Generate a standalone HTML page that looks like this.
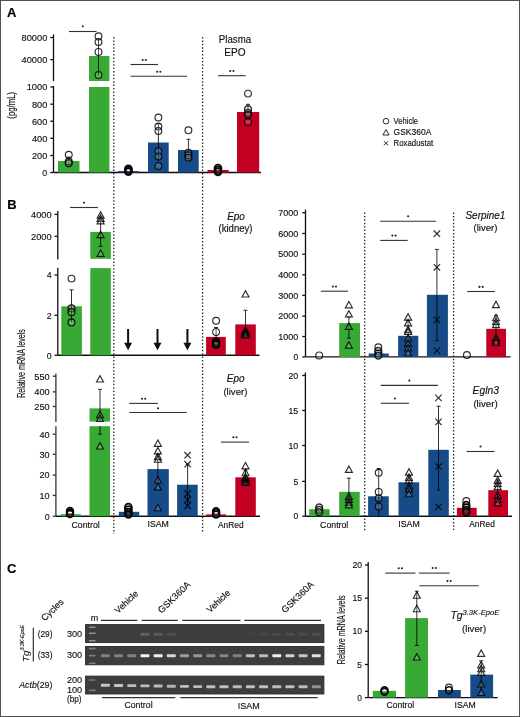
<!DOCTYPE html>
<html><head><meta charset="utf-8"><style>
html,body{margin:0;padding:0;background:#fff;}
body{width:520px;height:717px;position:relative;overflow:hidden;font-family:"Liberation Sans", sans-serif;}
#frame{position:absolute;left:0;top:0;width:518px;height:715px;border:1px solid #505050;pointer-events:none;}
</style></head><body>
<svg width="520" height="717" viewBox="0 0 520 717" style="position:absolute;left:0;top:0;font-family:'Liberation Sans', sans-serif"><rect x="0.00" y="0.00" width="520.00" height="717.00" fill="#fff" /><defs><filter id="soft" x="0" y="0" width="100%" height="100%"><feGaussianBlur stdDeviation="0.3"/></filter></defs><g filter="url(#soft)"><text x="6.90" y="16.90" font-size="13" text-anchor="start" font-weight="bold" fill="#000" stroke="#000" stroke-width="0.15" style=""  >A</text><line x1="53.50" y1="34.40" x2="53.50" y2="81.00" stroke="#111" stroke-width="1.3" /><line x1="50.30" y1="37.50" x2="53.50" y2="37.50" stroke="#111" stroke-width="1.3" /><text x="47.30" y="40.84" font-size="9.96" text-anchor="end" font-weight="normal" fill="#111" stroke="#111" stroke-width="0.15" style="" textLength="25.83" lengthAdjust="spacingAndGlyphs" >80000</text><line x1="50.30" y1="59.60" x2="53.50" y2="59.60" stroke="#111" stroke-width="1.3" /><text x="47.30" y="62.94" font-size="9.96" text-anchor="end" font-weight="normal" fill="#111" stroke="#111" stroke-width="0.15" style="" textLength="25.83" lengthAdjust="spacingAndGlyphs" >40000</text><line x1="53.50" y1="86.00" x2="53.50" y2="172.50" stroke="#111" stroke-width="1.3" /><line x1="50.30" y1="87.00" x2="53.50" y2="87.00" stroke="#111" stroke-width="1.3" /><text x="47.30" y="90.34" font-size="9.96" text-anchor="end" font-weight="normal" fill="#111" stroke="#111" stroke-width="0.15" style="" textLength="20.61" lengthAdjust="spacingAndGlyphs" >1000</text><line x1="50.30" y1="104.20" x2="53.50" y2="104.20" stroke="#111" stroke-width="1.3" /><text x="47.30" y="107.54" font-size="9.96" text-anchor="end" font-weight="normal" fill="#111" stroke="#111" stroke-width="0.15" style="" textLength="15.38" lengthAdjust="spacingAndGlyphs" >800</text><line x1="50.30" y1="121.30" x2="53.50" y2="121.30" stroke="#111" stroke-width="1.3" /><text x="47.30" y="124.64" font-size="9.96" text-anchor="end" font-weight="normal" fill="#111" stroke="#111" stroke-width="0.15" style="" textLength="15.38" lengthAdjust="spacingAndGlyphs" >600</text><line x1="50.30" y1="138.30" x2="53.50" y2="138.30" stroke="#111" stroke-width="1.3" /><text x="47.30" y="141.64" font-size="9.96" text-anchor="end" font-weight="normal" fill="#111" stroke="#111" stroke-width="0.15" style="" textLength="15.38" lengthAdjust="spacingAndGlyphs" >400</text><line x1="50.30" y1="155.50" x2="53.50" y2="155.50" stroke="#111" stroke-width="1.3" /><text x="47.30" y="158.84" font-size="9.96" text-anchor="end" font-weight="normal" fill="#111" stroke="#111" stroke-width="0.15" style="" textLength="15.38" lengthAdjust="spacingAndGlyphs" >200</text><line x1="50.30" y1="172.50" x2="53.50" y2="172.50" stroke="#111" stroke-width="1.3" /><text x="47.30" y="175.84" font-size="9.96" text-anchor="end" font-weight="normal" fill="#111" stroke="#111" stroke-width="0.15" style="" textLength="4.93" lengthAdjust="spacingAndGlyphs" >0</text><text x="0" y="0" font-size="10" text-anchor="middle" fill="#111" stroke="#111" stroke-width="0.15" style="" textLength="26.8" lengthAdjust="spacingAndGlyphs" transform="translate(11.90,105.30) rotate(-90)" dominant-baseline="central" >(pg/mL)</text><line x1="53.50" y1="172.50" x2="261.00" y2="172.50" stroke="#111" stroke-width="1.4" /><rect x="58.00" y="161.00" width="21.50" height="11.50" fill="#38a935" /><rect x="89.00" y="56.00" width="20.40" height="25.00" fill="#38a935" /><rect x="89.00" y="87.00" width="20.40" height="85.50" fill="#38a935" /><rect x="118.00" y="171.00" width="20.70" height="1.50" fill="#154c88" /><rect x="148.00" y="142.50" width="20.70" height="30.00" fill="#154c88" /><rect x="178.00" y="150.00" width="20.70" height="22.50" fill="#154c88" /><rect x="207.50" y="170.00" width="21.20" height="2.50" fill="#c10024" /><rect x="237.00" y="112.00" width="22.20" height="60.50" fill="#c10024" /><line x1="68.75" y1="157.00" x2="68.75" y2="165.00" stroke="#000" stroke-width="1.0" stroke-opacity="0.8"/><line x1="66.75" y1="157.00" x2="70.75" y2="157.00" stroke="#000" stroke-width="1.0" stroke-opacity="0.8"/><line x1="98.50" y1="40.00" x2="98.50" y2="75.00" stroke="#000" stroke-width="1.0" stroke-opacity="0.8"/><line x1="96.50" y1="40.00" x2="100.50" y2="40.00" stroke="#000" stroke-width="1.0" stroke-opacity="0.8"/><line x1="158.40" y1="123.80" x2="158.40" y2="161.00" stroke="#000" stroke-width="1.0" stroke-opacity="0.8"/><line x1="156.40" y1="123.80" x2="160.40" y2="123.80" stroke="#000" stroke-width="1.0" stroke-opacity="0.8"/><line x1="188.40" y1="139.30" x2="188.40" y2="158.00" stroke="#000" stroke-width="1.0" stroke-opacity="0.8"/><line x1="186.40" y1="139.30" x2="190.40" y2="139.30" stroke="#000" stroke-width="1.0" stroke-opacity="0.8"/><line x1="248.00" y1="104.30" x2="248.00" y2="120.00" stroke="#000" stroke-width="1.0" stroke-opacity="0.8"/><line x1="246.00" y1="104.30" x2="250.00" y2="104.30" stroke="#000" stroke-width="1.0" stroke-opacity="0.8"/><circle cx="68.75" cy="154.80" r="3.4" fill="#fff" fill-opacity="0.18" stroke-opacity="0.82" stroke="#000" stroke-width="1.15"/><circle cx="68.75" cy="161.40" r="3.4" fill="#fff" fill-opacity="0.18" stroke-opacity="0.82" stroke="#000" stroke-width="1.5"/><circle cx="68.75" cy="163.20" r="3.4" fill="#fff" fill-opacity="0.18" stroke-opacity="0.82" stroke="#000" stroke-width="1.5"/><circle cx="98.50" cy="36.25" r="3.4" fill="#fff" fill-opacity="0.18" stroke-opacity="0.82" stroke="#000" stroke-width="1.15"/><circle cx="98.50" cy="41.90" r="3.4" fill="#fff" fill-opacity="0.18" stroke-opacity="0.82" stroke="#000" stroke-width="1.15"/><circle cx="98.50" cy="51.90" r="3.4" fill="#fff" fill-opacity="0.18" stroke-opacity="0.82" stroke="#000" stroke-width="1.15"/><circle cx="98.50" cy="75.00" r="3.4" fill="#fff" fill-opacity="0.18" stroke-opacity="0.82" stroke="#000" stroke-width="1.15"/><circle cx="128.40" cy="168.80" r="3.4" fill="#fff" fill-opacity="0.1" stroke-opacity="0.95" stroke="#000" stroke-width="1.9"/><circle cx="128.40" cy="170.20" r="3.4" fill="#fff" fill-opacity="0.1" stroke-opacity="0.95" stroke="#000" stroke-width="1.9"/><circle cx="128.40" cy="171.60" r="3.4" fill="#fff" fill-opacity="0.1" stroke-opacity="0.95" stroke="#000" stroke-width="1.9"/><circle cx="158.40" cy="117.50" r="3.4" fill="#fff" fill-opacity="0.18" stroke-opacity="0.82" stroke="#000" stroke-width="1.15"/><circle cx="158.40" cy="126.50" r="3.4" fill="#fff" fill-opacity="0.18" stroke-opacity="0.82" stroke="#000" stroke-width="1.15"/><circle cx="158.40" cy="131.00" r="3.4" fill="#fff" fill-opacity="0.18" stroke-opacity="0.82" stroke="#000" stroke-width="1.15"/><circle cx="158.40" cy="151.20" r="3.4" fill="#fff" fill-opacity="0.18" stroke-opacity="0.82" stroke="#000" stroke-width="1.15"/><circle cx="158.40" cy="156.40" r="3.4" fill="#fff" fill-opacity="0.18" stroke-opacity="0.82" stroke="#000" stroke-width="1.15"/><circle cx="158.40" cy="166.00" r="3.4" fill="#fff" fill-opacity="0.18" stroke-opacity="0.82" stroke="#000" stroke-width="1.15"/><circle cx="188.40" cy="130.30" r="3.4" fill="#fff" fill-opacity="0.18" stroke-opacity="0.82" stroke="#000" stroke-width="1.15"/><circle cx="188.40" cy="152.80" r="3.4" fill="#fff" fill-opacity="0.18" stroke-opacity="0.82" stroke="#000" stroke-width="1.3"/><circle cx="188.40" cy="155.20" r="3.4" fill="#fff" fill-opacity="0.18" stroke-opacity="0.82" stroke="#000" stroke-width="1.3"/><circle cx="188.40" cy="157.80" r="3.4" fill="#fff" fill-opacity="0.18" stroke-opacity="0.82" stroke="#000" stroke-width="1.3"/><circle cx="218.00" cy="168.00" r="3.4" fill="#fff" fill-opacity="0.1" stroke-opacity="0.95" stroke="#000" stroke-width="1.9"/><circle cx="218.00" cy="170.00" r="3.4" fill="#fff" fill-opacity="0.1" stroke-opacity="0.95" stroke="#000" stroke-width="1.9"/><circle cx="218.00" cy="171.80" r="3.4" fill="#fff" fill-opacity="0.1" stroke-opacity="0.95" stroke="#000" stroke-width="1.9"/><circle cx="248.00" cy="93.60" r="3.4" fill="#fff" fill-opacity="0.18" stroke-opacity="0.82" stroke="#000" stroke-width="1.15"/><circle cx="248.00" cy="109.20" r="3.4" fill="#fff" fill-opacity="0.18" stroke-opacity="0.82" stroke="#000" stroke-width="1.5"/><circle cx="248.00" cy="112.90" r="3.4" fill="#fff" fill-opacity="0.18" stroke-opacity="0.82" stroke="#000" stroke-width="1.5"/><circle cx="248.00" cy="114.80" r="3.4" fill="#fff" fill-opacity="0.18" stroke-opacity="0.82" stroke="#000" stroke-width="1.5"/><circle cx="248.00" cy="122.00" r="3.4" fill="#fff" fill-opacity="0.18" stroke-opacity="0.82" stroke="#000" stroke-width="1.15"/><line x1="69.00" y1="31.50" x2="96.60" y2="31.50" stroke="#333" stroke-width="1.1" /><circle cx="82.80" cy="26.30" r="1.05" fill="#222"/><line x1="130.50" y1="64.50" x2="158.00" y2="64.50" stroke="#333" stroke-width="1.1" /><circle cx="142.65" cy="60.00" r="1.05" fill="#222"/><circle cx="145.85" cy="60.00" r="1.05" fill="#222"/><line x1="130.50" y1="76.20" x2="187.00" y2="76.20" stroke="#333" stroke-width="1.1" /><circle cx="157.15" cy="71.70" r="1.05" fill="#222"/><circle cx="160.35" cy="71.70" r="1.05" fill="#222"/><line x1="218.00" y1="75.70" x2="245.70" y2="75.70" stroke="#333" stroke-width="1.1" /><circle cx="230.25" cy="71.00" r="1.05" fill="#222"/><circle cx="233.45" cy="71.00" r="1.05" fill="#222"/><text x="235.00" y="42.80" font-size="10.5" text-anchor="middle" font-weight="normal" fill="#111" stroke="#111" stroke-width="0.15" style="" textLength="32.3" lengthAdjust="spacingAndGlyphs" >Plasma</text><text x="235.00" y="55.90" font-size="10.4" text-anchor="middle" font-weight="normal" fill="#111" stroke="#111" stroke-width="0.15" style="" textLength="21.3" lengthAdjust="spacingAndGlyphs" >EPO</text><circle cx="386.00" cy="121.20" r="2.8" fill="#fff" fill-opacity="0.18" stroke-opacity="0.82" stroke="#000" stroke-width="1.0"/><text x="393.60" y="123.90" font-size="8.6" text-anchor="start" font-weight="normal" fill="#111" stroke="#111" stroke-width="0.15" style="" textLength="24.5" lengthAdjust="spacingAndGlyphs" >Vehicle</text><path d="M382.90,135.00 L386.00,129.60 L389.10,135.00 Z" fill="#fff" fill-opacity="0.18" stroke-opacity="0.82" stroke="#000" stroke-width="1.0" stroke-linejoin="miter"/><text x="393.60" y="134.90" font-size="8.6" text-anchor="start" font-weight="normal" fill="#111" stroke="#111" stroke-width="0.15" style="" textLength="37.7" lengthAdjust="spacingAndGlyphs" >GSK360A</text><path d="M383.90,141.10 L388.10,145.30 M383.90,145.30 L388.10,141.10" stroke="#000" stroke-opacity="0.82" stroke-width="1.0" fill="none"/><text x="393.60" y="145.90" font-size="8.6" text-anchor="start" font-weight="normal" fill="#111" stroke="#111" stroke-width="0.15" style="" textLength="39.6" lengthAdjust="spacingAndGlyphs" >Roxadustat</text><line x1="113.80" y1="37.00" x2="113.80" y2="534.00" stroke="#2a2a2a" stroke-width="1.3" stroke-dasharray="1.5 1.9"/><line x1="202.60" y1="37.00" x2="202.60" y2="533.00" stroke="#2a2a2a" stroke-width="1.3" stroke-dasharray="1.5 1.9"/><text x="7.30" y="209.40" font-size="13" text-anchor="start" font-weight="bold" fill="#000" stroke="#000" stroke-width="0.15" style=""  >B</text><text x="0" y="0" font-size="10.5" text-anchor="middle" fill="#111" stroke="#111" stroke-width="0.15" style="" textLength="68.7" lengthAdjust="spacingAndGlyphs" transform="translate(20.80,363.50) rotate(-90)" dominant-baseline="central" >Relative mRNA levels</text><line x1="57.80" y1="211.00" x2="57.80" y2="259.40" stroke="#111" stroke-width="1.3" /><line x1="54.60" y1="214.40" x2="57.80" y2="214.40" stroke="#111" stroke-width="1.3" /><text x="51.60" y="217.74" font-size="9.96" text-anchor="end" font-weight="normal" fill="#111" stroke="#111" stroke-width="0.15" style="" textLength="20.61" lengthAdjust="spacingAndGlyphs" >4000</text><line x1="54.60" y1="236.30" x2="57.80" y2="236.30" stroke="#111" stroke-width="1.3" /><text x="51.60" y="239.64" font-size="9.96" text-anchor="end" font-weight="normal" fill="#111" stroke="#111" stroke-width="0.15" style="" textLength="20.61" lengthAdjust="spacingAndGlyphs" >2000</text><line x1="57.80" y1="267.80" x2="57.80" y2="355.30" stroke="#111" stroke-width="1.3" /><line x1="54.60" y1="275.00" x2="57.80" y2="275.00" stroke="#111" stroke-width="1.3" /><text x="51.60" y="278.34" font-size="9.96" text-anchor="end" font-weight="normal" fill="#111" stroke="#111" stroke-width="0.15" style="" textLength="4.93" lengthAdjust="spacingAndGlyphs" >4</text><line x1="54.60" y1="315.30" x2="57.80" y2="315.30" stroke="#111" stroke-width="1.3" /><text x="51.60" y="318.64" font-size="9.96" text-anchor="end" font-weight="normal" fill="#111" stroke="#111" stroke-width="0.15" style="" textLength="4.93" lengthAdjust="spacingAndGlyphs" >2</text><line x1="54.60" y1="355.30" x2="57.80" y2="355.30" stroke="#111" stroke-width="1.3" /><text x="51.60" y="358.64" font-size="9.96" text-anchor="end" font-weight="normal" fill="#111" stroke="#111" stroke-width="0.15" style="" textLength="4.93" lengthAdjust="spacingAndGlyphs" >0</text><line x1="57.80" y1="355.30" x2="259.50" y2="355.30" stroke="#111" stroke-width="1.4" /><rect x="61.30" y="306.30" width="20.60" height="49.00" fill="#38a935" /><rect x="90.30" y="231.90" width="20.50" height="26.90" fill="#38a935" /><rect x="90.30" y="268.10" width="20.50" height="87.20" fill="#38a935" /><line x1="71.50" y1="289.80" x2="71.50" y2="322.00" stroke="#000" stroke-width="1.0" stroke-opacity="0.8"/><line x1="69.50" y1="289.80" x2="73.50" y2="289.80" stroke="#000" stroke-width="1.0" stroke-opacity="0.8"/><circle cx="71.50" cy="278.60" r="3.4" fill="#fff" fill-opacity="0.18" stroke-opacity="0.82" stroke="#000" stroke-width="1.15"/><circle cx="71.50" cy="308.40" r="3.4" fill="#fff" fill-opacity="0.18" stroke-opacity="0.82" stroke="#000" stroke-width="1.4"/><circle cx="71.50" cy="312.20" r="3.4" fill="#fff" fill-opacity="0.18" stroke-opacity="0.82" stroke="#000" stroke-width="1.4"/><circle cx="71.50" cy="322.40" r="3.4" fill="#fff" fill-opacity="0.18" stroke-opacity="0.82" stroke="#000" stroke-width="1.3"/><line x1="100.60" y1="217.00" x2="100.60" y2="246.30" stroke="#000" stroke-width="1.0" stroke-opacity="0.8"/><line x1="98.60" y1="217.00" x2="102.60" y2="217.00" stroke="#000" stroke-width="1.0" stroke-opacity="0.8"/><line x1="98.60" y1="246.30" x2="102.60" y2="246.30" stroke="#000" stroke-width="1.0" stroke-opacity="0.8"/><path d="M97.10,218.20 L100.60,211.80 L104.10,218.20 Z" fill="#fff" fill-opacity="0.18" stroke-opacity="0.82" stroke="#000" stroke-width="1.15" stroke-linejoin="miter"/><path d="M97.10,221.30 L100.60,214.90 L104.10,221.30 Z" fill="#fff" fill-opacity="0.18" stroke-opacity="0.82" stroke="#000" stroke-width="1.15" stroke-linejoin="miter"/><path d="M97.10,223.80 L100.60,217.40 L104.10,223.80 Z" fill="#fff" fill-opacity="0.18" stroke-opacity="0.82" stroke="#000" stroke-width="1.15" stroke-linejoin="miter"/><path d="M97.10,237.60 L100.60,231.20 L104.10,237.60 Z" fill="#fff" fill-opacity="0.18" stroke-opacity="0.82" stroke="#000" stroke-width="1.15" stroke-linejoin="miter"/><path d="M97.10,256.30 L100.60,249.90 L104.10,256.30 Z" fill="#fff" fill-opacity="0.18" stroke-opacity="0.82" stroke="#000" stroke-width="1.15" stroke-linejoin="miter"/><line x1="70.00" y1="207.50" x2="97.90" y2="207.50" stroke="#333" stroke-width="1.1" /><circle cx="83.95" cy="202.80" r="1.05" fill="#222"/><path d="M127.10,329.00 L129.10,329.00 L129.10,342.70 L132.10,342.70 L128.10,350.20 L124.10,342.70 L127.10,342.70 Z" fill="#111"/><path d="M156.50,329.00 L158.50,329.00 L158.50,342.70 L161.50,342.70 L157.50,350.20 L153.50,342.70 L156.50,342.70 Z" fill="#111"/><path d="M186.40,329.00 L188.40,329.00 L188.40,342.70 L191.40,342.70 L187.40,350.20 L183.40,342.70 L186.40,342.70 Z" fill="#111"/><rect x="206.10" y="336.90" width="19.70" height="18.40" fill="#c10024" /><rect x="235.30" y="324.40" width="20.50" height="30.90" fill="#c10024" /><line x1="216.10" y1="327.50" x2="216.10" y2="345.00" stroke="#000" stroke-width="1.0" stroke-opacity="0.8"/><line x1="214.10" y1="327.50" x2="218.10" y2="327.50" stroke="#000" stroke-width="1.0" stroke-opacity="0.8"/><circle cx="216.10" cy="320.80" r="3.4" fill="#fff" fill-opacity="0.18" stroke-opacity="0.82" stroke="#000" stroke-width="1.15"/><circle cx="216.10" cy="331.90" r="3.4" fill="#fff" fill-opacity="0.18" stroke-opacity="0.82" stroke="#000" stroke-width="1.15"/><circle cx="216.10" cy="341.60" r="3.4" fill="#fff" fill-opacity="0.1" stroke-opacity="0.95" stroke="#000" stroke-width="1.8"/><circle cx="216.10" cy="343.00" r="3.4" fill="#fff" fill-opacity="0.1" stroke-opacity="0.95" stroke="#000" stroke-width="1.8"/><circle cx="216.10" cy="344.60" r="3.4" fill="#fff" fill-opacity="0.1" stroke-opacity="0.95" stroke="#000" stroke-width="1.8"/><line x1="245.50" y1="310.30" x2="245.50" y2="336.00" stroke="#000" stroke-width="1.0" stroke-opacity="0.8"/><line x1="243.50" y1="310.30" x2="247.50" y2="310.30" stroke="#000" stroke-width="1.0" stroke-opacity="0.8"/><path d="M242.00,297.00 L245.50,290.60 L249.00,297.00 Z" fill="#fff" fill-opacity="0.18" stroke-opacity="0.82" stroke="#000" stroke-width="1.15" stroke-linejoin="miter"/><path d="M242.00,333.70 L245.50,327.30 L249.00,333.70 Z" fill="#fff" fill-opacity="0.18" stroke-opacity="0.82" stroke="#000" stroke-width="1.8" stroke-linejoin="miter"/><path d="M242.00,335.70 L245.50,329.30 L249.00,335.70 Z" fill="#fff" fill-opacity="0.18" stroke-opacity="0.82" stroke="#000" stroke-width="1.8" stroke-linejoin="miter"/><path d="M242.00,337.70 L245.50,331.30 L249.00,337.70 Z" fill="#fff" fill-opacity="0.18" stroke-opacity="0.82" stroke="#000" stroke-width="1.8" stroke-linejoin="miter"/><text x="236.00" y="219.70" font-size="10.4" text-anchor="middle" font-weight="normal" fill="#111" stroke="#111" stroke-width="0.15" style="font-style:italic;" textLength="17.7" lengthAdjust="spacingAndGlyphs" >Epo</text><text x="235.50" y="232.20" font-size="10.4" text-anchor="middle" font-weight="normal" fill="#111" stroke="#111" stroke-width="0.15" style="" textLength="34.1" lengthAdjust="spacingAndGlyphs" >(kidney)</text><line x1="55.90" y1="373.50" x2="55.90" y2="421.90" stroke="#333" stroke-width="1.3" /><line x1="52.70" y1="376.20" x2="55.90" y2="376.20" stroke="#333" stroke-width="1.3" /><text x="49.70" y="379.54" font-size="9.96" text-anchor="end" font-weight="normal" fill="#111" stroke="#111" stroke-width="0.15" style="" textLength="15.38" lengthAdjust="spacingAndGlyphs" >550</text><line x1="52.70" y1="391.90" x2="55.90" y2="391.90" stroke="#333" stroke-width="1.3" /><text x="49.70" y="395.24" font-size="9.96" text-anchor="end" font-weight="normal" fill="#111" stroke="#111" stroke-width="0.15" style="" textLength="15.38" lengthAdjust="spacingAndGlyphs" >400</text><line x1="52.70" y1="406.50" x2="55.90" y2="406.50" stroke="#333" stroke-width="1.3" /><text x="49.70" y="409.84" font-size="9.96" text-anchor="end" font-weight="normal" fill="#111" stroke="#111" stroke-width="0.15" style="" textLength="15.38" lengthAdjust="spacingAndGlyphs" >250</text><line x1="55.90" y1="426.20" x2="55.90" y2="516.20" stroke="#333" stroke-width="1.3" /><line x1="52.70" y1="434.20" x2="55.90" y2="434.20" stroke="#333" stroke-width="1.3" /><text x="49.70" y="437.54" font-size="9.96" text-anchor="end" font-weight="normal" fill="#111" stroke="#111" stroke-width="0.15" style="" textLength="10.15" lengthAdjust="spacingAndGlyphs" >40</text><line x1="52.70" y1="454.30" x2="55.90" y2="454.30" stroke="#333" stroke-width="1.3" /><text x="49.70" y="457.64" font-size="9.96" text-anchor="end" font-weight="normal" fill="#111" stroke="#111" stroke-width="0.15" style="" textLength="10.15" lengthAdjust="spacingAndGlyphs" >30</text><line x1="52.70" y1="475.10" x2="55.90" y2="475.10" stroke="#333" stroke-width="1.3" /><text x="49.70" y="478.44" font-size="9.96" text-anchor="end" font-weight="normal" fill="#111" stroke="#111" stroke-width="0.15" style="" textLength="10.15" lengthAdjust="spacingAndGlyphs" >20</text><line x1="52.70" y1="495.40" x2="55.90" y2="495.40" stroke="#333" stroke-width="1.3" /><text x="49.70" y="498.74" font-size="9.96" text-anchor="end" font-weight="normal" fill="#111" stroke="#111" stroke-width="0.15" style="" textLength="10.15" lengthAdjust="spacingAndGlyphs" >10</text><line x1="52.70" y1="516.20" x2="55.90" y2="516.20" stroke="#333" stroke-width="1.3" /><text x="49.70" y="519.54" font-size="9.96" text-anchor="end" font-weight="normal" fill="#111" stroke="#111" stroke-width="0.15" style="" textLength="4.93" lengthAdjust="spacingAndGlyphs" >0</text><line x1="55.90" y1="516.20" x2="260.00" y2="516.20" stroke="#111" stroke-width="1.4" /><rect x="60.80" y="514.20" width="20.00" height="2.00" fill="#38a935" /><rect x="89.50" y="408.40" width="20.50" height="13.20" fill="#38a935" /><rect x="89.50" y="426.20" width="20.50" height="90.00" fill="#38a935" /><line x1="100.00" y1="389.30" x2="100.00" y2="421.60" stroke="#000" stroke-width="1.0" stroke-opacity="0.8"/><line x1="98.00" y1="389.30" x2="102.00" y2="389.30" stroke="#000" stroke-width="1.0" stroke-opacity="0.8"/><line x1="100.00" y1="434.20" x2="100.00" y2="426.20" stroke="#000" stroke-width="1.0" stroke-opacity="0.8"/><line x1="98.00" y1="434.20" x2="102.00" y2="434.20" stroke="#000" stroke-width="1.0" stroke-opacity="0.8"/><path d="M96.50,382.00 L100.00,375.60 L103.50,382.00 Z" fill="#fff" fill-opacity="0.18" stroke-opacity="0.82" stroke="#000" stroke-width="1.15" stroke-linejoin="miter"/><path d="M96.50,417.70 L100.00,411.30 L103.50,417.70 Z" fill="#fff" fill-opacity="0.18" stroke-opacity="0.82" stroke="#000" stroke-width="1.15" stroke-linejoin="miter"/><path d="M96.50,421.50 L100.00,415.10 L103.50,421.50 Z" fill="#fff" fill-opacity="0.18" stroke-opacity="0.82" stroke="#000" stroke-width="1.15" stroke-linejoin="miter"/><path d="M96.50,449.00 L100.00,442.60 L103.50,449.00 Z" fill="#fff" fill-opacity="0.18" stroke-opacity="0.82" stroke="#000" stroke-width="1.15" stroke-linejoin="miter"/><circle cx="70.00" cy="511.00" r="3.4" fill="#fff" fill-opacity="0.1" stroke-opacity="0.95" stroke="#000" stroke-width="1.7"/><circle cx="70.00" cy="512.60" r="3.4" fill="#fff" fill-opacity="0.1" stroke-opacity="0.95" stroke="#000" stroke-width="1.7"/><circle cx="70.00" cy="514.00" r="3.4" fill="#fff" fill-opacity="0.1" stroke-opacity="0.95" stroke="#000" stroke-width="1.7"/><rect x="118.90" y="511.80" width="20.30" height="4.40" fill="#154c88" /><rect x="147.50" y="469.10" width="21.30" height="47.10" fill="#154c88" /><rect x="177.10" y="484.70" width="20.60" height="31.50" fill="#154c88" /><circle cx="128.40" cy="507.00" r="3.4" fill="#fff" fill-opacity="0.1" stroke-opacity="0.95" stroke="#000" stroke-width="1.9"/><circle cx="128.40" cy="509.50" r="3.4" fill="#fff" fill-opacity="0.1" stroke-opacity="0.95" stroke="#000" stroke-width="1.9"/><circle cx="128.40" cy="512.00" r="3.4" fill="#fff" fill-opacity="0.1" stroke-opacity="0.95" stroke="#000" stroke-width="1.9"/><circle cx="128.40" cy="514.50" r="3.4" fill="#fff" fill-opacity="0.1" stroke-opacity="0.95" stroke="#000" stroke-width="1.9"/><line x1="157.90" y1="454.70" x2="157.90" y2="483.00" stroke="#000" stroke-width="1.0" stroke-opacity="0.8"/><line x1="155.90" y1="454.70" x2="159.90" y2="454.70" stroke="#000" stroke-width="1.0" stroke-opacity="0.8"/><path d="M154.40,446.30 L157.90,439.90 L161.40,446.30 Z" fill="#fff" fill-opacity="0.18" stroke-opacity="0.82" stroke="#000" stroke-width="1.15" stroke-linejoin="miter"/><path d="M154.40,453.90 L157.90,447.50 L161.40,453.90 Z" fill="#fff" fill-opacity="0.18" stroke-opacity="0.82" stroke="#000" stroke-width="1.15" stroke-linejoin="miter"/><path d="M154.40,459.60 L157.90,453.20 L161.40,459.60 Z" fill="#fff" fill-opacity="0.18" stroke-opacity="0.82" stroke="#000" stroke-width="1.15" stroke-linejoin="miter"/><path d="M154.40,462.20 L157.90,455.80 L161.40,462.20 Z" fill="#fff" fill-opacity="0.18" stroke-opacity="0.82" stroke="#000" stroke-width="1.15" stroke-linejoin="miter"/><path d="M154.40,483.00 L157.90,476.60 L161.40,483.00 Z" fill="#fff" fill-opacity="0.18" stroke-opacity="0.82" stroke="#000" stroke-width="1.15" stroke-linejoin="miter"/><path d="M154.40,489.90 L157.90,483.50 L161.40,489.90 Z" fill="#fff" fill-opacity="0.18" stroke-opacity="0.82" stroke="#000" stroke-width="1.15" stroke-linejoin="miter"/><path d="M154.40,510.70 L157.90,504.30 L161.40,510.70 Z" fill="#fff" fill-opacity="0.18" stroke-opacity="0.82" stroke="#000" stroke-width="1.15" stroke-linejoin="miter"/><line x1="187.60" y1="464.20" x2="187.60" y2="505.00" stroke="#000" stroke-width="1.0" stroke-opacity="0.8"/><line x1="185.60" y1="464.20" x2="189.60" y2="464.20" stroke="#000" stroke-width="1.0" stroke-opacity="0.8"/><path d="M184.40,452.00 L190.80,458.40 M184.40,458.40 L190.80,452.00" stroke="#000" stroke-opacity="0.82" stroke-width="1.15" fill="none"/><path d="M184.40,461.00 L190.80,467.40 M184.40,467.40 L190.80,461.00" stroke="#000" stroke-opacity="0.82" stroke-width="1.15" fill="none"/><path d="M184.40,490.50 L190.80,496.90 M184.40,496.90 L190.80,490.50" stroke="#000" stroke-opacity="0.82" stroke-width="1.15" fill="none"/><path d="M184.40,496.50 L190.80,502.90 M184.40,502.90 L190.80,496.50" stroke="#000" stroke-opacity="0.82" stroke-width="1.15" fill="none"/><path d="M184.40,502.60 L190.80,509.00 M184.40,509.00 L190.80,502.60" stroke="#000" stroke-opacity="0.82" stroke-width="1.15" fill="none"/><line x1="129.30" y1="403.40" x2="157.90" y2="403.40" stroke="#333" stroke-width="1.1" /><circle cx="142.00" cy="398.70" r="1.05" fill="#222"/><circle cx="145.20" cy="398.70" r="1.05" fill="#222"/><line x1="129.30" y1="412.50" x2="186.80" y2="412.50" stroke="#333" stroke-width="1.1" /><circle cx="158.05" cy="408.20" r="1.05" fill="#222"/><rect x="206.10" y="514.40" width="20.00" height="1.80" fill="#c10024" /><circle cx="216.10" cy="511.20" r="3.4" fill="#fff" fill-opacity="0.1" stroke-opacity="0.95" stroke="#000" stroke-width="1.7"/><circle cx="216.10" cy="513.00" r="3.4" fill="#fff" fill-opacity="0.1" stroke-opacity="0.95" stroke="#000" stroke-width="1.7"/><circle cx="216.10" cy="514.50" r="3.4" fill="#fff" fill-opacity="0.1" stroke-opacity="0.95" stroke="#000" stroke-width="1.7"/><rect x="235.30" y="477.30" width="20.50" height="38.90" fill="#c10024" /><path d="M242.00,468.80 L245.50,462.40 L249.00,468.80 Z" fill="#fff" fill-opacity="0.18" stroke-opacity="0.82" stroke="#000" stroke-width="1.15" stroke-linejoin="miter"/><path d="M242.00,475.70 L245.50,469.30 L249.00,475.70 Z" fill="#fff" fill-opacity="0.18" stroke-opacity="0.82" stroke="#000" stroke-width="1.15" stroke-linejoin="miter"/><path d="M242.00,480.10 L245.50,473.70 L249.00,480.10 Z" fill="#fff" fill-opacity="0.18" stroke-opacity="0.82" stroke="#000" stroke-width="1.7" stroke-linejoin="miter"/><path d="M242.00,482.70 L245.50,476.30 L249.00,482.70 Z" fill="#fff" fill-opacity="0.18" stroke-opacity="0.82" stroke="#000" stroke-width="1.7" stroke-linejoin="miter"/><path d="M242.00,485.20 L245.50,478.80 L249.00,485.20 Z" fill="#fff" fill-opacity="0.18" stroke-opacity="0.82" stroke="#000" stroke-width="1.7" stroke-linejoin="miter"/><line x1="245.50" y1="470.00" x2="245.50" y2="484.00" stroke="#000" stroke-width="1.0" stroke-opacity="0.8"/><line x1="243.50" y1="470.00" x2="247.50" y2="470.00" stroke="#000" stroke-width="1.0" stroke-opacity="0.8"/><line x1="220.90" y1="442.10" x2="249.00" y2="442.10" stroke="#333" stroke-width="1.1" /><circle cx="233.35" cy="437.30" r="1.05" fill="#222"/><circle cx="236.55" cy="437.30" r="1.05" fill="#222"/><text x="235.60" y="381.80" font-size="10.4" text-anchor="middle" font-weight="normal" fill="#111" stroke="#111" stroke-width="0.15" style="font-style:italic;" textLength="17.7" lengthAdjust="spacingAndGlyphs" >Epo</text><text x="235.40" y="394.70" font-size="9.6" text-anchor="middle" font-weight="normal" fill="#111" stroke="#111" stroke-width="0.15" style=""  >(liver)</text><text x="85.60" y="527.60" font-size="9.2" text-anchor="middle" font-weight="normal" fill="#111" stroke="#111" stroke-width="0.15" style="" textLength="28.2" lengthAdjust="spacingAndGlyphs" >Control</text><text x="158.20" y="527.40" font-size="9.2" text-anchor="middle" font-weight="normal" fill="#111" stroke="#111" stroke-width="0.15" style="" textLength="21.4" lengthAdjust="spacingAndGlyphs" >ISAM</text><text x="230.80" y="527.50" font-size="9.2" text-anchor="middle" font-weight="normal" fill="#111" stroke="#111" stroke-width="0.15" style="" textLength="25.6" lengthAdjust="spacingAndGlyphs" >AnRed</text><line x1="305.50" y1="209.60" x2="305.50" y2="356.90" stroke="#111" stroke-width="1.3" /><line x1="302.30" y1="212.70" x2="305.50" y2="212.70" stroke="#111" stroke-width="1.3" /><text x="298.30" y="215.93" font-size="9.65" text-anchor="end" font-weight="normal" fill="#111" stroke="#111" stroke-width="0.15" style="" textLength="19.94" lengthAdjust="spacingAndGlyphs" >7000</text><line x1="302.30" y1="233.50" x2="305.50" y2="233.50" stroke="#111" stroke-width="1.3" /><text x="298.30" y="236.73" font-size="9.65" text-anchor="end" font-weight="normal" fill="#111" stroke="#111" stroke-width="0.15" style="" textLength="19.94" lengthAdjust="spacingAndGlyphs" >6000</text><line x1="302.30" y1="254.20" x2="305.50" y2="254.20" stroke="#111" stroke-width="1.3" /><text x="298.30" y="257.43" font-size="9.65" text-anchor="end" font-weight="normal" fill="#111" stroke="#111" stroke-width="0.15" style="" textLength="19.94" lengthAdjust="spacingAndGlyphs" >5000</text><line x1="302.30" y1="274.80" x2="305.50" y2="274.80" stroke="#111" stroke-width="1.3" /><text x="298.30" y="278.03" font-size="9.65" text-anchor="end" font-weight="normal" fill="#111" stroke="#111" stroke-width="0.15" style="" textLength="19.94" lengthAdjust="spacingAndGlyphs" >4000</text><line x1="302.30" y1="295.40" x2="305.50" y2="295.40" stroke="#111" stroke-width="1.3" /><text x="298.30" y="298.63" font-size="9.65" text-anchor="end" font-weight="normal" fill="#111" stroke="#111" stroke-width="0.15" style="" textLength="19.94" lengthAdjust="spacingAndGlyphs" >3000</text><line x1="302.30" y1="316.20" x2="305.50" y2="316.20" stroke="#111" stroke-width="1.3" /><text x="298.30" y="319.43" font-size="9.65" text-anchor="end" font-weight="normal" fill="#111" stroke="#111" stroke-width="0.15" style="" textLength="19.94" lengthAdjust="spacingAndGlyphs" >2000</text><line x1="302.30" y1="336.50" x2="305.50" y2="336.50" stroke="#111" stroke-width="1.3" /><text x="298.30" y="339.73" font-size="9.65" text-anchor="end" font-weight="normal" fill="#111" stroke="#111" stroke-width="0.15" style="" textLength="19.94" lengthAdjust="spacingAndGlyphs" >1000</text><line x1="302.30" y1="356.90" x2="305.50" y2="356.90" stroke="#111" stroke-width="1.3" /><text x="298.30" y="360.13" font-size="9.65" text-anchor="end" font-weight="normal" fill="#111" stroke="#111" stroke-width="0.15" style="" textLength="4.76" lengthAdjust="spacingAndGlyphs" >0</text><line x1="305.50" y1="356.90" x2="510.60" y2="356.90" stroke="#111" stroke-width="1.4" /><line x1="364.70" y1="212.50" x2="364.70" y2="532.00" stroke="#2a2a2a" stroke-width="1.3" stroke-dasharray="1.5 1.9"/><line x1="453.60" y1="212.50" x2="453.60" y2="530.00" stroke="#2a2a2a" stroke-width="1.3" stroke-dasharray="1.5 1.9"/><circle cx="319.20" cy="355.40" r="3.4" fill="#fff" fill-opacity="0.18" stroke-opacity="0.82" stroke="#000" stroke-width="1.15"/><rect x="339.20" y="323.10" width="20.80" height="33.80" fill="#38a935" /><line x1="348.90" y1="316.90" x2="348.90" y2="338.20" stroke="#000" stroke-width="1.0" stroke-opacity="0.8"/><line x1="346.90" y1="316.90" x2="350.90" y2="316.90" stroke="#000" stroke-width="1.0" stroke-opacity="0.8"/><line x1="346.90" y1="338.20" x2="350.90" y2="338.20" stroke="#000" stroke-width="1.0" stroke-opacity="0.8"/><path d="M345.40,307.80 L348.90,301.40 L352.40,307.80 Z" fill="#fff" fill-opacity="0.18" stroke-opacity="0.82" stroke="#000" stroke-width="1.15" stroke-linejoin="miter"/><path d="M345.40,317.00 L348.90,310.60 L352.40,317.00 Z" fill="#fff" fill-opacity="0.18" stroke-opacity="0.82" stroke="#000" stroke-width="1.15" stroke-linejoin="miter"/><path d="M345.40,329.40 L348.90,323.00 L352.40,329.40 Z" fill="#fff" fill-opacity="0.18" stroke-opacity="0.82" stroke="#000" stroke-width="1.15" stroke-linejoin="miter"/><path d="M345.40,348.10 L348.90,341.70 L352.40,348.10 Z" fill="#fff" fill-opacity="0.18" stroke-opacity="0.82" stroke="#000" stroke-width="1.15" stroke-linejoin="miter"/><line x1="320.80" y1="291.20" x2="348.00" y2="291.20" stroke="#333" stroke-width="1.1" /><circle cx="332.80" cy="286.50" r="1.05" fill="#222"/><circle cx="336.00" cy="286.50" r="1.05" fill="#222"/><rect x="368.70" y="353.50" width="20.10" height="3.40" fill="#154c88" /><circle cx="378.30" cy="347.30" r="3.4" fill="#fff" fill-opacity="0.18" stroke-opacity="0.82" stroke="#000" stroke-width="1.15"/><circle cx="378.30" cy="350.80" r="3.4" fill="#fff" fill-opacity="0.18" stroke-opacity="0.82" stroke="#000" stroke-width="1.5"/><circle cx="378.30" cy="353.50" r="3.4" fill="#fff" fill-opacity="0.18" stroke-opacity="0.82" stroke="#000" stroke-width="1.5"/><circle cx="378.30" cy="355.60" r="3.4" fill="#fff" fill-opacity="0.18" stroke-opacity="0.82" stroke="#000" stroke-width="1.5"/><rect x="398.10" y="335.80" width="20.20" height="21.10" fill="#154c88" /><line x1="408.10" y1="320.80" x2="408.10" y2="350.00" stroke="#000" stroke-width="1.0" stroke-opacity="0.8"/><line x1="406.10" y1="320.80" x2="410.10" y2="320.80" stroke="#000" stroke-width="1.0" stroke-opacity="0.8"/><path d="M404.60,320.10 L408.10,313.70 L411.60,320.10 Z" fill="#fff" fill-opacity="0.18" stroke-opacity="0.82" stroke="#000" stroke-width="1.15" stroke-linejoin="miter"/><path d="M404.60,325.90 L408.10,319.50 L411.60,325.90 Z" fill="#fff" fill-opacity="0.18" stroke-opacity="0.82" stroke="#000" stroke-width="1.15" stroke-linejoin="miter"/><path d="M404.60,332.60 L408.10,326.20 L411.60,332.60 Z" fill="#fff" fill-opacity="0.18" stroke-opacity="0.82" stroke="#000" stroke-width="1.15" stroke-linejoin="miter"/><path d="M404.60,334.50 L408.10,328.10 L411.60,334.50 Z" fill="#fff" fill-opacity="0.18" stroke-opacity="0.82" stroke="#000" stroke-width="1.15" stroke-linejoin="miter"/><path d="M404.60,341.20 L408.10,334.80 L411.60,341.20 Z" fill="#fff" fill-opacity="0.18" stroke-opacity="0.82" stroke="#000" stroke-width="1.15" stroke-linejoin="miter"/><path d="M404.60,346.10 L408.10,339.70 L411.60,346.10 Z" fill="#fff" fill-opacity="0.18" stroke-opacity="0.82" stroke="#000" stroke-width="1.15" stroke-linejoin="miter"/><path d="M404.60,350.90 L408.10,344.50 L411.60,350.90 Z" fill="#fff" fill-opacity="0.18" stroke-opacity="0.82" stroke="#000" stroke-width="1.15" stroke-linejoin="miter"/><path d="M404.60,355.70 L408.10,349.30 L411.60,355.70 Z" fill="#fff" fill-opacity="0.18" stroke-opacity="0.82" stroke="#000" stroke-width="1.15" stroke-linejoin="miter"/><rect x="426.90" y="294.80" width="21.00" height="62.10" fill="#154c88" /><line x1="436.90" y1="249.40" x2="436.90" y2="340.40" stroke="#000" stroke-width="1.0" stroke-opacity="0.8"/><line x1="434.90" y1="249.40" x2="438.90" y2="249.40" stroke="#000" stroke-width="1.0" stroke-opacity="0.8"/><line x1="434.90" y1="340.40" x2="438.90" y2="340.40" stroke="#000" stroke-width="1.0" stroke-opacity="0.8"/><path d="M433.70,230.50 L440.10,236.90 M433.70,236.90 L440.10,230.50" stroke="#000" stroke-opacity="0.82" stroke-width="1.15" fill="none"/><path d="M433.70,264.10 L440.10,270.50 M433.70,270.50 L440.10,264.10" stroke="#000" stroke-opacity="0.82" stroke-width="1.15" fill="none"/><path d="M433.70,316.60 L440.10,323.00 M433.70,323.00 L440.10,316.60" stroke="#000" stroke-opacity="0.82" stroke-width="1.15" fill="none"/><path d="M433.70,347.40 L440.10,353.80 M433.70,353.80 L440.10,347.40" stroke="#000" stroke-opacity="0.82" stroke-width="1.15" fill="none"/><line x1="380.20" y1="221.20" x2="436.00" y2="221.20" stroke="#333" stroke-width="1.1" /><circle cx="408.10" cy="216.30" r="1.05" fill="#222"/><line x1="380.20" y1="240.40" x2="407.70" y2="240.40" stroke="#333" stroke-width="1.1" /><circle cx="392.35" cy="235.60" r="1.05" fill="#222"/><circle cx="395.55" cy="235.60" r="1.05" fill="#222"/><circle cx="466.90" cy="355.00" r="3.4" fill="#fff" fill-opacity="0.18" stroke-opacity="0.82" stroke="#000" stroke-width="1.15"/><rect x="486.30" y="328.80" width="19.70" height="28.30" fill="#c10024" /><line x1="496.00" y1="315.60" x2="496.00" y2="342.00" stroke="#000" stroke-width="1.0" stroke-opacity="0.8"/><line x1="494.00" y1="315.60" x2="498.00" y2="315.60" stroke="#000" stroke-width="1.0" stroke-opacity="0.8"/><path d="M492.50,307.60 L496.00,301.20 L499.50,307.60 Z" fill="#fff" fill-opacity="0.18" stroke-opacity="0.82" stroke="#000" stroke-width="1.15" stroke-linejoin="miter"/><path d="M492.50,320.70 L496.00,314.30 L499.50,320.70 Z" fill="#fff" fill-opacity="0.18" stroke-opacity="0.82" stroke="#000" stroke-width="1.15" stroke-linejoin="miter"/><path d="M492.50,324.50 L496.00,318.10 L499.50,324.50 Z" fill="#fff" fill-opacity="0.18" stroke-opacity="0.82" stroke="#000" stroke-width="1.15" stroke-linejoin="miter"/><path d="M492.50,327.60 L496.00,321.20 L499.50,327.60 Z" fill="#fff" fill-opacity="0.18" stroke-opacity="0.82" stroke="#000" stroke-width="1.15" stroke-linejoin="miter"/><path d="M492.50,340.70 L496.00,334.30 L499.50,340.70 Z" fill="#fff" fill-opacity="0.18" stroke-opacity="0.82" stroke="#000" stroke-width="1.15" stroke-linejoin="miter"/><path d="M492.50,343.20 L496.00,336.80 L499.50,343.20 Z" fill="#fff" fill-opacity="0.18" stroke-opacity="0.82" stroke="#000" stroke-width="1.15" stroke-linejoin="miter"/><path d="M492.50,345.10 L496.00,338.70 L499.50,345.10 Z" fill="#fff" fill-opacity="0.18" stroke-opacity="0.82" stroke="#000" stroke-width="1.15" stroke-linejoin="miter"/><line x1="467.30" y1="291.50" x2="494.80" y2="291.50" stroke="#333" stroke-width="1.1" /><circle cx="479.45" cy="286.90" r="1.05" fill="#222"/><circle cx="482.65" cy="286.90" r="1.05" fill="#222"/><text x="485.40" y="218.50" font-size="10.5" text-anchor="middle" font-weight="normal" fill="#111" stroke="#111" stroke-width="0.15" style="font-style:italic;" textLength="39.9" lengthAdjust="spacingAndGlyphs" >Serpine1</text><text x="485.50" y="231.20" font-size="9.6" text-anchor="middle" font-weight="normal" fill="#111" stroke="#111" stroke-width="0.15" style=""  >(liver)</text><line x1="305.40" y1="372.50" x2="305.40" y2="516.20" stroke="#111" stroke-width="1.3" /><line x1="302.20" y1="375.50" x2="305.40" y2="375.50" stroke="#111" stroke-width="1.3" /><text x="298.20" y="378.73" font-size="9.65" text-anchor="end" font-weight="normal" fill="#111" stroke="#111" stroke-width="0.15" style="" textLength="9.82" lengthAdjust="spacingAndGlyphs" >20</text><line x1="302.20" y1="410.50" x2="305.40" y2="410.50" stroke="#111" stroke-width="1.3" /><text x="298.20" y="413.73" font-size="9.65" text-anchor="end" font-weight="normal" fill="#111" stroke="#111" stroke-width="0.15" style="" textLength="9.82" lengthAdjust="spacingAndGlyphs" >15</text><line x1="302.20" y1="445.50" x2="305.40" y2="445.50" stroke="#111" stroke-width="1.3" /><text x="298.20" y="448.73" font-size="9.65" text-anchor="end" font-weight="normal" fill="#111" stroke="#111" stroke-width="0.15" style="" textLength="9.82" lengthAdjust="spacingAndGlyphs" >10</text><line x1="302.20" y1="481.40" x2="305.40" y2="481.40" stroke="#111" stroke-width="1.3" /><text x="298.20" y="484.63" font-size="9.65" text-anchor="end" font-weight="normal" fill="#111" stroke="#111" stroke-width="0.15" style="" textLength="4.76" lengthAdjust="spacingAndGlyphs" >5</text><line x1="302.20" y1="516.20" x2="305.40" y2="516.20" stroke="#111" stroke-width="1.3" /><text x="298.20" y="519.43" font-size="9.65" text-anchor="end" font-weight="normal" fill="#111" stroke="#111" stroke-width="0.15" style="" textLength="4.76" lengthAdjust="spacingAndGlyphs" >0</text><line x1="305.40" y1="516.20" x2="512.00" y2="516.20" stroke="#111" stroke-width="1.4" /><rect x="309.20" y="509.20" width="20.50" height="7.00" fill="#38a935" /><circle cx="319.20" cy="507.50" r="3.4" fill="#fff" fill-opacity="0.18" stroke-opacity="0.82" stroke="#000" stroke-width="1.5"/><circle cx="319.20" cy="509.80" r="3.4" fill="#fff" fill-opacity="0.18" stroke-opacity="0.82" stroke="#000" stroke-width="1.5"/><circle cx="319.20" cy="512.20" r="3.4" fill="#fff" fill-opacity="0.18" stroke-opacity="0.82" stroke="#000" stroke-width="1.5"/><rect x="339.20" y="491.80" width="20.50" height="24.40" fill="#38a935" /><line x1="348.90" y1="478.20" x2="348.90" y2="505.00" stroke="#000" stroke-width="1.0" stroke-opacity="0.8"/><line x1="346.90" y1="478.20" x2="350.90" y2="478.20" stroke="#000" stroke-width="1.0" stroke-opacity="0.8"/><path d="M345.40,472.40 L348.90,466.00 L352.40,472.40 Z" fill="#fff" fill-opacity="0.18" stroke-opacity="0.82" stroke="#000" stroke-width="1.15" stroke-linejoin="miter"/><path d="M345.40,499.40 L348.90,493.00 L352.40,499.40 Z" fill="#fff" fill-opacity="0.18" stroke-opacity="0.82" stroke="#000" stroke-width="1.15" stroke-linejoin="miter"/><path d="M345.40,502.40 L348.90,496.00 L352.40,502.40 Z" fill="#fff" fill-opacity="0.18" stroke-opacity="0.82" stroke="#000" stroke-width="1.15" stroke-linejoin="miter"/><path d="M345.40,505.50 L348.90,499.10 L352.40,505.50 Z" fill="#fff" fill-opacity="0.18" stroke-opacity="0.82" stroke="#000" stroke-width="1.15" stroke-linejoin="miter"/><path d="M345.40,507.80 L348.90,501.40 L352.40,507.80 Z" fill="#fff" fill-opacity="0.18" stroke-opacity="0.82" stroke="#000" stroke-width="1.15" stroke-linejoin="miter"/><rect x="368.10" y="496.30" width="20.70" height="19.90" fill="#154c88" /><line x1="378.70" y1="468.50" x2="378.70" y2="516.00" stroke="#000" stroke-width="1.0" stroke-opacity="0.8"/><line x1="376.70" y1="468.50" x2="380.70" y2="468.50" stroke="#000" stroke-width="1.0" stroke-opacity="0.8"/><circle cx="378.70" cy="472.70" r="3.4" fill="#fff" fill-opacity="0.18" stroke-opacity="0.82" stroke="#000" stroke-width="1.15"/><circle cx="378.70" cy="491.90" r="3.4" fill="#fff" fill-opacity="0.18" stroke-opacity="0.82" stroke="#000" stroke-width="1.15"/><circle cx="378.70" cy="498.30" r="3.4" fill="#fff" fill-opacity="0.18" stroke-opacity="0.82" stroke="#000" stroke-width="1.15"/><circle cx="378.70" cy="506.50" r="3.4" fill="#fff" fill-opacity="0.18" stroke-opacity="0.82" stroke="#000" stroke-width="1.15"/><rect x="398.50" y="482.30" width="20.70" height="33.90" fill="#154c88" /><path d="M405.50,475.10 L409.00,468.70 L412.50,475.10 Z" fill="#fff" fill-opacity="0.18" stroke-opacity="0.82" stroke="#000" stroke-width="1.15" stroke-linejoin="miter"/><path d="M405.50,480.30 L409.00,473.90 L412.50,480.30 Z" fill="#fff" fill-opacity="0.18" stroke-opacity="0.82" stroke="#000" stroke-width="1.15" stroke-linejoin="miter"/><path d="M405.50,483.20 L409.00,476.80 L412.50,483.20 Z" fill="#fff" fill-opacity="0.18" stroke-opacity="0.82" stroke="#000" stroke-width="1.15" stroke-linejoin="miter"/><path d="M405.50,489.00 L409.00,482.60 L412.50,489.00 Z" fill="#fff" fill-opacity="0.18" stroke-opacity="0.82" stroke="#000" stroke-width="1.15" stroke-linejoin="miter"/><path d="M405.50,491.90 L409.00,485.50 L412.50,491.90 Z" fill="#fff" fill-opacity="0.18" stroke-opacity="0.82" stroke="#000" stroke-width="1.15" stroke-linejoin="miter"/><path d="M405.50,496.70 L409.00,490.30 L412.50,496.70 Z" fill="#fff" fill-opacity="0.18" stroke-opacity="0.82" stroke="#000" stroke-width="1.15" stroke-linejoin="miter"/><line x1="409.00" y1="476.00" x2="409.00" y2="490.00" stroke="#000" stroke-width="1.0" stroke-opacity="0.8"/><line x1="407.00" y1="476.00" x2="411.00" y2="476.00" stroke="#000" stroke-width="1.0" stroke-opacity="0.8"/><rect x="428.30" y="449.80" width="20.50" height="66.40" fill="#154c88" /><line x1="438.50" y1="406.20" x2="438.50" y2="490.00" stroke="#000" stroke-width="1.0" stroke-opacity="0.8"/><line x1="436.50" y1="406.20" x2="440.50" y2="406.20" stroke="#000" stroke-width="1.0" stroke-opacity="0.8"/><line x1="436.50" y1="490.00" x2="440.50" y2="490.00" stroke="#000" stroke-width="1.0" stroke-opacity="0.8"/><path d="M435.30,394.70 L441.70,401.10 M435.30,401.10 L441.70,394.70" stroke="#000" stroke-opacity="0.82" stroke-width="1.15" fill="none"/><path d="M435.30,418.70 L441.70,425.10 M435.30,425.10 L441.70,418.70" stroke="#000" stroke-opacity="0.82" stroke-width="1.15" fill="none"/><path d="M435.30,463.30 L441.70,469.70 M435.30,469.70 L441.70,463.30" stroke="#000" stroke-opacity="0.82" stroke-width="1.15" fill="none"/><path d="M435.30,503.70 L441.70,510.10 M435.30,510.10 L441.70,503.70" stroke="#000" stroke-opacity="0.82" stroke-width="1.15" fill="none"/><line x1="380.80" y1="385.40" x2="437.90" y2="385.40" stroke="#333" stroke-width="1.1" /><circle cx="409.35" cy="380.60" r="1.05" fill="#222"/><line x1="380.80" y1="403.30" x2="409.00" y2="403.30" stroke="#333" stroke-width="1.1" /><circle cx="394.90" cy="398.50" r="1.05" fill="#222"/><rect x="456.90" y="507.80" width="19.80" height="8.40" fill="#c10024" /><circle cx="466.30" cy="501.00" r="3.4" fill="#fff" fill-opacity="0.18" stroke-opacity="0.82" stroke="#000" stroke-width="1.15"/><circle cx="466.30" cy="505.00" r="3.4" fill="#fff" fill-opacity="0.1" stroke-opacity="0.95" stroke="#000" stroke-width="1.6"/><circle cx="466.30" cy="507.50" r="3.4" fill="#fff" fill-opacity="0.1" stroke-opacity="0.95" stroke="#000" stroke-width="1.6"/><circle cx="466.30" cy="510.00" r="3.4" fill="#fff" fill-opacity="0.1" stroke-opacity="0.95" stroke="#000" stroke-width="1.6"/><circle cx="466.30" cy="512.20" r="3.4" fill="#fff" fill-opacity="0.1" stroke-opacity="0.95" stroke="#000" stroke-width="1.6"/><rect x="488.30" y="490.20" width="19.70" height="26.00" fill="#c10024" /><path d="M494.20,476.40 L497.70,470.00 L501.20,476.40 Z" fill="#fff" fill-opacity="0.18" stroke-opacity="0.82" stroke="#000" stroke-width="1.15" stroke-linejoin="miter"/><path d="M494.20,483.40 L497.70,477.00 L501.20,483.40 Z" fill="#fff" fill-opacity="0.18" stroke-opacity="0.82" stroke="#000" stroke-width="1.15" stroke-linejoin="miter"/><path d="M494.20,486.50 L497.70,480.10 L501.20,486.50 Z" fill="#fff" fill-opacity="0.18" stroke-opacity="0.82" stroke="#000" stroke-width="1.15" stroke-linejoin="miter"/><path d="M494.20,489.60 L497.70,483.20 L501.20,489.60 Z" fill="#fff" fill-opacity="0.18" stroke-opacity="0.82" stroke="#000" stroke-width="1.15" stroke-linejoin="miter"/><path d="M494.20,498.40 L497.70,492.00 L501.20,498.40 Z" fill="#fff" fill-opacity="0.18" stroke-opacity="0.82" stroke="#000" stroke-width="1.15" stroke-linejoin="miter"/><path d="M494.20,502.20 L497.70,495.80 L501.20,502.20 Z" fill="#fff" fill-opacity="0.18" stroke-opacity="0.82" stroke="#000" stroke-width="1.15" stroke-linejoin="miter"/><path d="M494.20,505.90 L497.70,499.50 L501.20,505.90 Z" fill="#fff" fill-opacity="0.18" stroke-opacity="0.82" stroke="#000" stroke-width="1.15" stroke-linejoin="miter"/><line x1="497.70" y1="480.00" x2="497.70" y2="500.00" stroke="#000" stroke-width="1.0" stroke-opacity="0.8"/><line x1="495.70" y1="480.00" x2="499.70" y2="480.00" stroke="#000" stroke-width="1.0" stroke-opacity="0.8"/><line x1="466.60" y1="451.50" x2="494.50" y2="451.50" stroke="#333" stroke-width="1.1" /><circle cx="480.55" cy="446.50" r="1.05" fill="#222"/><text x="485.75" y="393.80" font-size="10.5" text-anchor="middle" font-weight="normal" fill="#111" stroke="#111" stroke-width="0.15" style="font-style:italic;" textLength="26.3" lengthAdjust="spacingAndGlyphs" >Egln3</text><text x="485.50" y="406.80" font-size="9.7" text-anchor="middle" font-weight="normal" fill="#111" stroke="#111" stroke-width="0.15" style=""  >(liver)</text><text x="334.20" y="527.60" font-size="9.2" text-anchor="middle" font-weight="normal" fill="#111" stroke="#111" stroke-width="0.15" style="" textLength="28.2" lengthAdjust="spacingAndGlyphs" >Control</text><text x="409.00" y="527.20" font-size="9.2" text-anchor="middle" font-weight="normal" fill="#111" stroke="#111" stroke-width="0.15" style="" textLength="21.4" lengthAdjust="spacingAndGlyphs" >ISAM</text><text x="482.00" y="527.20" font-size="9.2" text-anchor="middle" font-weight="normal" fill="#111" stroke="#111" stroke-width="0.15" style="" textLength="25.6" lengthAdjust="spacingAndGlyphs" >AnRed</text><text x="6.90" y="572.90" font-size="13" text-anchor="start" font-weight="bold" fill="#000" stroke="#000" stroke-width="0.15" style=""  >C</text><text x="0" y="0" font-size="9.0" text-anchor="middle" fill="#111" stroke="#111" stroke-width="0.15" transform="translate(52.40,609.90) rotate(-44)" dominant-baseline="central">Cycles</text><text x="0" y="0" font-size="8.9" text-anchor="middle" fill="#111" stroke="#111" stroke-width="0.15" transform="translate(126.40,602.00) rotate(-43)" dominant-baseline="central">Vehicle</text><text x="0" y="0" font-size="9.2" text-anchor="middle" fill="#111" stroke="#111" stroke-width="0.15" transform="translate(174.20,597.40) rotate(-44)" dominant-baseline="central">GSK360A</text><text x="0" y="0" font-size="8.9" text-anchor="middle" fill="#111" stroke="#111" stroke-width="0.15" transform="translate(218.40,601.30) rotate(-43)" dominant-baseline="central">Vehicle</text><text x="0" y="0" font-size="9.2" text-anchor="middle" fill="#111" stroke="#111" stroke-width="0.15" transform="translate(297.60,597.20) rotate(-44)" dominant-baseline="central">GSK360A</text><text x="94.40" y="620.80" font-size="9" text-anchor="middle" font-weight="normal" fill="#111" stroke="#111" stroke-width="0.15" style=""  >m</text><line x1="101.00" y1="620.40" x2="137.40" y2="620.40" stroke="#333" stroke-width="1.1" /><line x1="141.60" y1="620.40" x2="177.80" y2="620.40" stroke="#333" stroke-width="1.1" /><line x1="182.20" y1="620.40" x2="240.50" y2="620.40" stroke="#333" stroke-width="1.1" /><line x1="244.30" y1="620.40" x2="321.00" y2="620.40" stroke="#333" stroke-width="1.1" /><rect x="85.60" y="624.60" width="238.30" height="18.00" fill="#3c3c3c" stroke="#2a2a2a" stroke-width="0.9"/><rect x="85.60" y="646.40" width="238.30" height="18.40" fill="#3c3c3c" stroke="#2a2a2a" stroke-width="0.9"/><rect x="85.60" y="676.10" width="238.30" height="17.90" fill="#3c3c3c" stroke="#2a2a2a" stroke-width="0.9"/><defs><filter id="bl" x="-50%" y="-50%" width="200%" height="200%"><feGaussianBlur stdDeviation="0.55"/></filter></defs><rect x="88.80" y="626.40" width="7.00" height="1.60" rx="0.8" fill="#8e8e8e" filter="url(#bl)"/><rect x="88.80" y="632.50" width="7.00" height="1.60" rx="0.8" fill="#8e8e8e" filter="url(#bl)"/><rect x="88.80" y="640.00" width="7.00" height="1.60" rx="0.8" fill="#8e8e8e" filter="url(#bl)"/><rect x="88.80" y="647.80" width="7.00" height="1.60" rx="0.8" fill="#7e7e7e" filter="url(#bl)"/><rect x="88.80" y="654.80" width="7.00" height="1.60" rx="0.8" fill="#7e7e7e" filter="url(#bl)"/><rect x="88.80" y="662.40" width="7.00" height="1.60" rx="0.8" fill="#7e7e7e" filter="url(#bl)"/><rect x="88.80" y="679.20" width="7.00" height="1.60" rx="0.8" fill="#7a7a7a" filter="url(#bl)"/><rect x="88.80" y="689.60" width="7.00" height="1.60" rx="0.8" fill="#7a7a7a" filter="url(#bl)"/><rect x="100.90" y="654.25" width="9.00" height="2.90" rx="0.8" fill="#808080" filter="url(#bl)"/><rect x="100.90" y="683.85" width="9.00" height="2.90" rx="0.8" fill="#c4c4c4" filter="url(#bl)"/><rect x="114.08" y="654.25" width="9.00" height="2.90" rx="0.8" fill="#828282" filter="url(#bl)"/><rect x="114.08" y="684.04" width="9.00" height="2.90" rx="0.8" fill="#c4c4c4" filter="url(#bl)"/><rect x="127.26" y="654.25" width="9.00" height="2.90" rx="0.8" fill="#808080" filter="url(#bl)"/><rect x="127.26" y="684.22" width="9.00" height="2.90" rx="0.8" fill="#c0c0c0" filter="url(#bl)"/><rect x="140.44" y="632.85" width="9.00" height="2.90" rx="0.8" fill="#5e5e5e" filter="url(#bl)"/><rect x="140.44" y="654.25" width="9.00" height="2.90" rx="0.8" fill="#f4f4f4" filter="url(#bl)"/><rect x="140.44" y="684.41" width="9.00" height="2.90" rx="0.8" fill="#bcbcbc" filter="url(#bl)"/><rect x="153.62" y="632.85" width="9.00" height="2.90" rx="0.8" fill="#5a5a5a" filter="url(#bl)"/><rect x="153.62" y="654.25" width="9.00" height="2.90" rx="0.8" fill="#f0f0f0" filter="url(#bl)"/><rect x="153.62" y="684.60" width="9.00" height="2.90" rx="0.8" fill="#bababa" filter="url(#bl)"/><rect x="166.80" y="632.85" width="9.00" height="2.90" rx="0.8" fill="#4e4e4e" filter="url(#bl)"/><rect x="166.80" y="654.25" width="9.00" height="2.90" rx="0.8" fill="#d8d8d8" filter="url(#bl)"/><rect x="166.80" y="684.79" width="9.00" height="2.90" rx="0.8" fill="#b4b4b4" filter="url(#bl)"/><rect x="179.98" y="654.25" width="9.00" height="2.90" rx="0.8" fill="#9e9e9e" filter="url(#bl)"/><rect x="179.98" y="684.97" width="9.00" height="2.90" rx="0.8" fill="#bebebe" filter="url(#bl)"/><rect x="193.16" y="654.25" width="9.00" height="2.90" rx="0.8" fill="#989898" filter="url(#bl)"/><rect x="193.16" y="685.16" width="9.00" height="2.90" rx="0.8" fill="#bcbcbc" filter="url(#bl)"/><rect x="206.34" y="654.25" width="9.00" height="2.90" rx="0.8" fill="#888888" filter="url(#bl)"/><rect x="206.34" y="685.35" width="9.00" height="2.90" rx="0.8" fill="#bebebe" filter="url(#bl)"/><rect x="219.52" y="654.25" width="9.00" height="2.90" rx="0.8" fill="#848484" filter="url(#bl)"/><rect x="219.52" y="685.35" width="9.00" height="2.90" rx="0.8" fill="#c0c0c0" filter="url(#bl)"/><rect x="232.70" y="654.25" width="9.00" height="2.90" rx="0.8" fill="#828282" filter="url(#bl)"/><rect x="232.70" y="685.35" width="9.00" height="2.90" rx="0.8" fill="#bababa" filter="url(#bl)"/><rect x="245.88" y="632.85" width="9.00" height="2.90" rx="0.8" fill="#434343" filter="url(#bl)"/><rect x="245.88" y="654.25" width="9.00" height="2.90" rx="0.8" fill="#c0c0c0" filter="url(#bl)"/><rect x="245.88" y="685.35" width="9.00" height="2.90" rx="0.8" fill="#bebebe" filter="url(#bl)"/><rect x="259.06" y="632.85" width="9.00" height="2.90" rx="0.8" fill="#474747" filter="url(#bl)"/><rect x="259.06" y="654.25" width="9.00" height="2.90" rx="0.8" fill="#bcbcbc" filter="url(#bl)"/><rect x="259.06" y="685.35" width="9.00" height="2.90" rx="0.8" fill="#bebebe" filter="url(#bl)"/><rect x="272.24" y="632.85" width="9.00" height="2.90" rx="0.8" fill="#4c4c4c" filter="url(#bl)"/><rect x="272.24" y="654.25" width="9.00" height="2.90" rx="0.8" fill="#eeeeee" filter="url(#bl)"/><rect x="272.24" y="685.35" width="9.00" height="2.90" rx="0.8" fill="#bebebe" filter="url(#bl)"/><rect x="285.42" y="632.85" width="9.00" height="2.90" rx="0.8" fill="#4e4e4e" filter="url(#bl)"/><rect x="285.42" y="654.25" width="9.00" height="2.90" rx="0.8" fill="#d4d4d4" filter="url(#bl)"/><rect x="285.42" y="685.35" width="9.00" height="2.90" rx="0.8" fill="#c0c0c0" filter="url(#bl)"/><rect x="298.60" y="632.85" width="9.00" height="2.90" rx="0.8" fill="#4c4c4c" filter="url(#bl)"/><rect x="298.60" y="654.25" width="9.00" height="2.90" rx="0.8" fill="#c4c4c4" filter="url(#bl)"/><rect x="298.60" y="685.35" width="9.00" height="2.90" rx="0.8" fill="#bababa" filter="url(#bl)"/><rect x="311.78" y="632.85" width="9.00" height="2.90" rx="0.8" fill="#505050" filter="url(#bl)"/><rect x="311.78" y="654.25" width="9.00" height="2.90" rx="0.8" fill="#e2e2e2" filter="url(#bl)"/><rect x="311.78" y="685.35" width="9.00" height="2.90" rx="0.8" fill="#939393" filter="url(#bl)"/><line x1="33.30" y1="627.80" x2="33.30" y2="661.60" stroke="#222" stroke-width="1.1" /><text x="45.10" y="636.80" font-size="9.4" text-anchor="middle" font-weight="normal" fill="#111" stroke="#111" stroke-width="0.15" style="" textLength="14.8" lengthAdjust="spacingAndGlyphs" >(29)</text><text x="45.10" y="658.30" font-size="9.4" text-anchor="middle" font-weight="normal" fill="#111" stroke="#111" stroke-width="0.15" style="" textLength="14.8" lengthAdjust="spacingAndGlyphs" >(33)</text><text x="82.20" y="636.70" font-size="9.4" text-anchor="end" font-weight="normal" fill="#111" stroke="#111" stroke-width="0.15" style="" textLength="15.2" lengthAdjust="spacingAndGlyphs" >300</text><text x="82.20" y="658.20" font-size="9.4" text-anchor="end" font-weight="normal" fill="#111" stroke="#111" stroke-width="0.15" style="" textLength="15.2" lengthAdjust="spacingAndGlyphs" >300</text><text x="82.20" y="683.00" font-size="9.4" text-anchor="end" font-weight="normal" fill="#111" stroke="#111" stroke-width="0.15" style="" textLength="15.2" lengthAdjust="spacingAndGlyphs" >200</text><text x="82.20" y="692.70" font-size="9.4" text-anchor="end" font-weight="normal" fill="#111" stroke="#111" stroke-width="0.15" style="" textLength="15.2" lengthAdjust="spacingAndGlyphs" >100</text><text x="74.30" y="702.00" font-size="9.4" text-anchor="middle" font-weight="normal" fill="#111" stroke="#111" stroke-width="0.15" style="" textLength="14.5" lengthAdjust="spacingAndGlyphs" >(bp)</text><text x="0" y="0" font-size="9.8" fill="#111" stroke="#111" stroke-width="0.12" transform="translate(28.6,662.0) rotate(-90)"><tspan style="font-style:italic">Tg</tspan><tspan font-size="5.3" dy="-4.2" style="font-style:italic">3.3K-EpoE</tspan></text><text x="19.3" y="687.6" font-size="9.4" fill="#111" stroke="#111" stroke-width="0.15" textLength="33" lengthAdjust="spacingAndGlyphs"><tspan style="font-style:italic">Actb</tspan>(29)</text><line x1="102.00" y1="697.60" x2="175.30" y2="697.60" stroke="#333" stroke-width="1.1" /><line x1="180.40" y1="697.60" x2="317.60" y2="697.60" stroke="#333" stroke-width="1.1" /><text x="138.50" y="707.80" font-size="9.4" text-anchor="middle" font-weight="normal" fill="#111" stroke="#111" stroke-width="0.15" style="" textLength="28.2" lengthAdjust="spacingAndGlyphs" >Control</text><text x="248.80" y="708.60" font-size="9.4" text-anchor="middle" font-weight="normal" fill="#111" stroke="#111" stroke-width="0.15" style="" textLength="22.0" lengthAdjust="spacingAndGlyphs" >ISAM</text><line x1="368.20" y1="561.90" x2="368.20" y2="697.60" stroke="#111" stroke-width="1.3" /><line x1="365.00" y1="565.00" x2="368.20" y2="565.00" stroke="#111" stroke-width="1.3" /><text x="362.00" y="568.16" font-size="9.43" text-anchor="end" font-weight="normal" fill="#111" stroke="#111" stroke-width="0.15" style="" textLength="9.6" lengthAdjust="spacingAndGlyphs" >20</text><line x1="365.00" y1="598.10" x2="368.20" y2="598.10" stroke="#111" stroke-width="1.3" /><text x="362.00" y="601.26" font-size="9.43" text-anchor="end" font-weight="normal" fill="#111" stroke="#111" stroke-width="0.15" style="" textLength="9.6" lengthAdjust="spacingAndGlyphs" >15</text><line x1="365.00" y1="631.30" x2="368.20" y2="631.30" stroke="#111" stroke-width="1.3" /><text x="362.00" y="634.46" font-size="9.43" text-anchor="end" font-weight="normal" fill="#111" stroke="#111" stroke-width="0.15" style="" textLength="9.6" lengthAdjust="spacingAndGlyphs" >10</text><line x1="365.00" y1="664.50" x2="368.20" y2="664.50" stroke="#111" stroke-width="1.3" /><text x="362.00" y="667.66" font-size="9.43" text-anchor="end" font-weight="normal" fill="#111" stroke="#111" stroke-width="0.15" style="" textLength="4.65" lengthAdjust="spacingAndGlyphs" >5</text><line x1="365.00" y1="697.60" x2="368.20" y2="697.60" stroke="#111" stroke-width="1.3" /><text x="362.00" y="700.76" font-size="9.43" text-anchor="end" font-weight="normal" fill="#111" stroke="#111" stroke-width="0.15" style="" textLength="4.65" lengthAdjust="spacingAndGlyphs" >0</text><text x="0" y="0" font-size="10.5" text-anchor="middle" fill="#111" stroke="#111" stroke-width="0.15" style="" textLength="68.9" lengthAdjust="spacingAndGlyphs" transform="translate(341.10,629.80) rotate(-90)" dominant-baseline="central" >Relative mRNA levels</text><line x1="368.20" y1="697.60" x2="497.70" y2="697.60" stroke="#111" stroke-width="1.4" /><rect x="372.80" y="690.90" width="23.20" height="6.70" fill="#38a935" /><circle cx="384.50" cy="690.30" r="3.4" fill="#fff" fill-opacity="0.1" stroke-opacity="0.95" stroke="#000" stroke-width="1.6"/><circle cx="384.50" cy="691.80" r="3.4" fill="#fff" fill-opacity="0.1" stroke-opacity="0.95" stroke="#000" stroke-width="1.6"/><rect x="405.10" y="618.10" width="22.90" height="79.50" fill="#38a935" /><line x1="416.80" y1="591.20" x2="416.80" y2="645.40" stroke="#000" stroke-width="1.0" stroke-opacity="0.8"/><line x1="414.80" y1="591.20" x2="418.80" y2="591.20" stroke="#000" stroke-width="1.0" stroke-opacity="0.8"/><line x1="414.80" y1="645.40" x2="418.80" y2="645.40" stroke="#000" stroke-width="1.0" stroke-opacity="0.8"/><path d="M413.30,598.20 L416.80,591.80 L420.30,598.20 Z" fill="#fff" fill-opacity="0.18" stroke-opacity="0.82" stroke="#000" stroke-width="1.15" stroke-linejoin="miter"/><path d="M413.30,611.70 L416.80,605.30 L420.30,611.70 Z" fill="#fff" fill-opacity="0.18" stroke-opacity="0.82" stroke="#000" stroke-width="1.15" stroke-linejoin="miter"/><path d="M413.30,660.00 L416.80,653.60 L420.30,660.00 Z" fill="#fff" fill-opacity="0.18" stroke-opacity="0.82" stroke="#000" stroke-width="1.15" stroke-linejoin="miter"/><rect x="438.00" y="690.00" width="22.80" height="7.60" fill="#154c88" /><circle cx="448.90" cy="687.50" r="3.4" fill="#fff" fill-opacity="0.18" stroke-opacity="0.82" stroke="#000" stroke-width="1.15"/><circle cx="448.90" cy="690.20" r="3.4" fill="#fff" fill-opacity="0.1" stroke-opacity="0.95" stroke="#000" stroke-width="1.6"/><rect x="470.30" y="674.60" width="22.80" height="23.00" fill="#154c88" /><line x1="481.20" y1="660.80" x2="481.20" y2="690.00" stroke="#000" stroke-width="1.0" stroke-opacity="0.8"/><line x1="479.20" y1="660.80" x2="483.20" y2="660.80" stroke="#000" stroke-width="1.0" stroke-opacity="0.8"/><path d="M477.70,656.30 L481.20,649.90 L484.70,656.30 Z" fill="#fff" fill-opacity="0.18" stroke-opacity="0.82" stroke="#000" stroke-width="1.15" stroke-linejoin="miter"/><path d="M477.70,667.80 L481.20,661.40 L484.70,667.80 Z" fill="#fff" fill-opacity="0.18" stroke-opacity="0.82" stroke="#000" stroke-width="1.15" stroke-linejoin="miter"/><path d="M477.70,671.70 L481.20,665.30 L484.70,671.70 Z" fill="#fff" fill-opacity="0.18" stroke-opacity="0.82" stroke="#000" stroke-width="1.15" stroke-linejoin="miter"/><path d="M477.70,675.50 L481.20,669.10 L484.70,675.50 Z" fill="#fff" fill-opacity="0.18" stroke-opacity="0.82" stroke="#000" stroke-width="1.15" stroke-linejoin="miter"/><path d="M477.70,687.00 L481.20,680.60 L484.70,687.00 Z" fill="#fff" fill-opacity="0.18" stroke-opacity="0.82" stroke="#000" stroke-width="1.15" stroke-linejoin="miter"/><path d="M477.70,695.50 L481.20,689.10 L484.70,695.50 Z" fill="#fff" fill-opacity="0.18" stroke-opacity="0.82" stroke="#000" stroke-width="1.15" stroke-linejoin="miter"/><line x1="385.20" y1="573.10" x2="415.50" y2="573.10" stroke="#333" stroke-width="1.1" /><circle cx="398.75" cy="568.30" r="1.05" fill="#222"/><circle cx="401.95" cy="568.30" r="1.05" fill="#222"/><line x1="418.90" y1="573.10" x2="449.60" y2="573.10" stroke="#333" stroke-width="1.1" /><circle cx="432.65" cy="568.00" r="1.05" fill="#222"/><circle cx="435.85" cy="568.00" r="1.05" fill="#222"/><line x1="419.30" y1="585.80" x2="478.80" y2="585.80" stroke="#333" stroke-width="1.1" /><circle cx="447.45" cy="581.10" r="1.05" fill="#222"/><circle cx="450.65" cy="581.10" r="1.05" fill="#222"/><text x="450.4" y="618.8" font-size="10.4" fill="#111" stroke="#111" stroke-width="0.15" style="font-style:italic">Tg<tspan font-size="7.6" dy="-3.6">3.3K-EpoE</tspan></text><text x="474.20" y="632.20" font-size="9.7" text-anchor="middle" font-weight="normal" fill="#111" stroke="#111" stroke-width="0.15" style=""  >(liver)</text><text x="400.30" y="708.40" font-size="9.2" text-anchor="middle" font-weight="normal" fill="#111" stroke="#111" stroke-width="0.15" style="" textLength="27.6" lengthAdjust="spacingAndGlyphs" >Control</text><text x="465.20" y="708.40" font-size="9.2" text-anchor="middle" font-weight="normal" fill="#111" stroke="#111" stroke-width="0.15" style="" textLength="21.2" lengthAdjust="spacingAndGlyphs" >ISAM</text></g></svg>
<div id="frame"></div>
</body></html>
